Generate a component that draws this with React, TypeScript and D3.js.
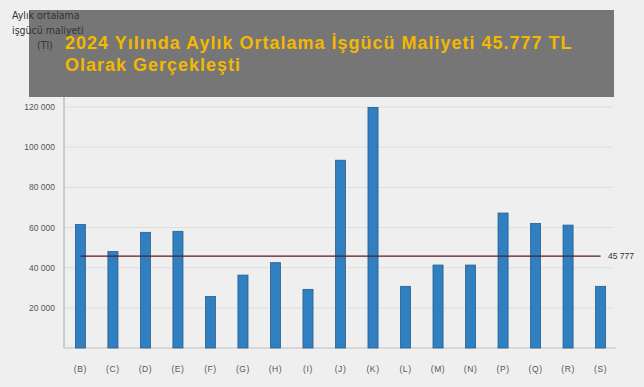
import React, { useEffect } from "react";
import * as d3 from "d3";

const categories = ["(B)", "(C)", "(D)", "(E)", "(F)", "(G)", "(H)", "(I)", "(J)", "(K)", "(L)", "(M)", "(N)", "(P)", "(Q)", "(R)", "(S)"];
const values = [61500, 48100, 57600, 58100, 25700, 36300, 42500, 29200, 93500, 119800, 30700, 41300, 41300, 67200, 62000, 61200, 30700];
const yTicks = [20000, 40000, 60000, 80000, 100000, 120000];
const average = 45777;
const titleLines = ["2024 Yılında Aylık Ortalama İşgücü Maliyeti 45.777 TL", "Olarak Gerçekleşti"];
const yLabelLines = ["Aylık ortalama", "işgücü maliyeti", "(Tl)"];

const W = 644, H = 387;

export default function App() {
  useEffect(() => {
    document.body.style.margin = "0";
    document.body.style.background = "#efefef";
  }, []);

  // plot frame
  const left = 64, right = 617, top = 107, bottom = 348;

  const x = d3.scaleBand<string>()
    .domain(categories)
    .range([left, right])
    .paddingInner(0.69)
    .paddingOuter(0.35);

  const y = d3.scaleLinear()
    .domain([0, 120000])
    .range([bottom, top]);

  const fmt = (v: number) => d3.format(",")(v).replace(/,/g, " ");
  const xFirst = (x(categories[0]) as number) + x.bandwidth() / 2;
  const xLast = (x(categories[categories.length - 1]) as number) + x.bandwidth() / 2;

  return (
    <svg width={W} height={H} style={{ display: "block", background: "#efefef" }}>
      <rect x={0} y={0} width={W} height={H} fill="#efefef" />

      {/* grid */}
      {yTicks.map(t => (
        <line key={t} x1={left} x2={613} y1={y(t)} y2={y(t)} stroke="#dedede" strokeWidth={1} />
      ))}

      {/* axes */}
      <line x1={left} x2={left} y1={97} y2={bottom} stroke="#a8a8a8" strokeWidth={1} />
      <line x1={left} x2={616} y1={bottom} y2={bottom} stroke="#cfcfcf" strokeWidth={1.5} />

      {yTicks.map(t => (
        <text key={t} x={55} y={y(t) + 3} textAnchor="end" fontSize={8.5}
          fontFamily="'Liberation Sans', Arial, sans-serif" fill="#555">{fmt(t)}</text>
      ))}

      {/* bars */}
      {categories.map((c, i) => (
        <rect key={c} x={x(c)} y={y(values[i])} width={x.bandwidth()} height={bottom - y(values[i])}
          fill="#2f7fc1" stroke="#2b5f8c" strokeWidth={0.8} />
      ))}

      {categories.map(c => (
        <text key={c} x={(x(c) as number) + x.bandwidth() / 2} y={372} textAnchor="middle" fontSize={8.5}
          letterSpacing={0.6} fontFamily="'Liberation Sans', Arial, sans-serif" fill="#555">{c}</text>
      ))}

      {/* average line */}
      <line x1={xFirst} x2={xLast} y1={y(average)} y2={y(average)} stroke="#5c1a24" strokeWidth={1.3} />
      <text x={608} y={y(average) + 3} fontSize={8.5} fontFamily="'Liberation Sans', Arial, sans-serif" fill="#333">{fmt(average)}</text>

      {/* title box */}
      <rect x={29} y={10} width={585} height={87} fill="#767676" />
      {titleLines.map((t, i) => (
        <text key={i} x={65} y={49 + i * 21.5} fontSize={18} fontWeight="bold" letterSpacing={1}
          fontFamily="'Liberation Sans', Arial, sans-serif" fill="#f4b800">{t}</text>
      ))}

      {/* y label */}
      {yLabelLines.map((t, i) => (
        <text key={i} x={i === 2 ? 37 : 12} y={19 + i * 15} fontSize={10.5}
          fontFamily="'DejaVu Sans Condensed', 'DejaVu Sans', sans-serif" fill="#333">{t}</text>
      ))}
    </svg>
  );
}
